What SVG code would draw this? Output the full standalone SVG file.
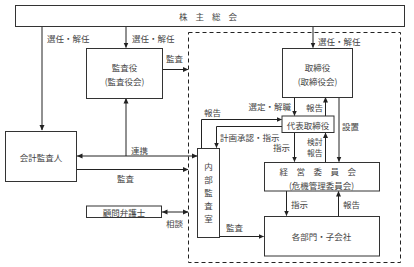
<svg xmlns="http://www.w3.org/2000/svg" width="414" height="267" viewBox="0 0 414 267">
<style>
text{font-family:"Noto Sans CJK JP","Noto Sans CJK SC",sans-serif;font-size:8.5px;fill:#444;dominant-baseline:central}
.c{text-anchor:middle}
.e{text-anchor:end}
.s{font-size:7.8px}
.box{fill:#fff;stroke:#333;stroke-width:1}
.ln{fill:none;stroke:#222;stroke-width:1}
.ar{marker-end:url(#ah)}
.ab{marker-start:url(#as);marker-end:url(#ah)}
</style>
<defs>
<marker id="ah" markerWidth="6" markerHeight="6" refX="5" refY="3" orient="auto" markerUnits="userSpaceOnUse"><path d="M0,0.5 L5.5,3 L0,5.5 Z" fill="#222"/></marker>
<marker id="as" markerWidth="6" markerHeight="6" refX="0.5" refY="3" orient="auto" markerUnits="userSpaceOnUse"><path d="M6,0.5 L0.5,3 L6,5.5 Z" fill="#222"/></marker>
</defs>
<rect width="414" height="267" fill="#fff"/>
<rect x="188.5" y="32.5" width="212" height="230" fill="none" stroke="#222" stroke-width="1" stroke-dasharray="4,3"/>
<g id="connectors">
<path class="ln ar" d="M42,26 V130"/>
<path class="ln ar" d="M126,26 V47.5"/>
<path class="ln ar" d="M313,26 V47.5"/>
<path class="ln ar" d="M162,69.5 H188"/>
<path class="ln ab" d="M77,156 H197"/>
<path class="ln ar" d="M126,156 V98.5"/>
<path class="ln ar" d="M76,169.5 H188"/>
<path class="ln ab" d="M162,212 H188"/>
<path class="ln ar" d="M294.5,97 V115.5"/>
<path class="ln ar" d="M325.5,116 V97.5"/>
<path class="ln ar" d="M339,97 V161.5"/>
<path class="ln ar" d="M294.5,132.5 V161.5"/>
<path class="ln ar" d="M325.5,162 V133"/>
<path class="ln ar" d="M201.5,148 V119.5 H281.5"/>
<path class="ln ar" d="M282,126.5 H216.5 V147.5"/>
<path class="ln ar" d="M286.5,191 V215.5"/>
<path class="ln ar" d="M338.5,216 V191.5"/>
<path class="ln ar" d="M219,236.5 H263.5"/>
<text x="47" y="38">選任・解任</text>
<text x="132" y="38">選任・解任</text>
<text x="318" y="41">選任・解任</text>
<text x="166" y="58">監査</text>
<text x="131" y="150">連携</text>
<text x="117" y="177.5">監査</text>
<text x="166" y="223">相談</text>
<text class="e" x="291" y="105.5">選定・解職</text>
<text x="306" y="106.5">報告</text>
<text x="342" y="125.5">設置</text>
<text x="273" y="146.5">指示</text>
<text class="s" x="307" y="141">検討</text>
<text class="s" x="307" y="152.5">報告</text>
<text x="204" y="112">報告</text>
<text x="220" y="137">計画承認・指示</text>
<text x="291" y="204">指示</text>
<text x="343" y="204">報告</text>
<text x="226" y="227">監査</text>
</g>
<g id="kabunushi"><rect class="box" x="15.5" y="5.5" width="389" height="21"/><text class="c" x="212" y="16" letter-spacing="8">株主総会</text></g>
<g id="kansayaku"><rect class="box" x="86.5" y="48.5" width="76" height="50"/><text class="c" x="124.5" y="67">監査役</text><text class="c" x="124.5" y="80.5">(監査役会)</text></g>
<g id="torishimariyaku"><rect class="box" x="282.5" y="48.5" width="70" height="49"/><text class="c" x="317.5" y="67">取締役</text><text class="c" x="317.5" y="80.5">(取締役会)</text></g>
<g id="kaikei"><rect class="box" x="5.5" y="131.5" width="71" height="50"/><text class="c" x="41" y="157">会計監査人</text></g>
<g id="daihyo"><rect class="box" x="282" y="116" width="52" height="16.5" stroke-width="1.6"/><text class="c" x="308" y="124.5">代表取締役</text></g>
<g id="naibu"><rect class="box" x="197.5" y="148.5" width="22" height="89"/><text class="c" x="208.5" y="166">内</text><text class="c" x="208.5" y="179">部</text><text class="c" x="208.5" y="192">監</text><text class="c" x="208.5" y="205">査</text><text class="c" x="208.5" y="218">室</text></g>
<g id="keiei"><rect class="box" x="264.5" y="162.5" width="115" height="28.5"/><text class="c" x="322" y="171" letter-spacing="8.5">経営委員会</text><text class="c" x="321.5" y="184.5">(危機管理委員会)</text></g>
<g id="kakubumon"><rect class="box" x="264.5" y="216.5" width="115" height="39.5"/><text class="c" x="321.5" y="236">各部門・子会社</text></g>
<g id="komon"><rect class="box" x="86.5" y="206" width="75" height="11.5"/><text class="c" x="124" y="211.8">顧問弁護士</text></g>
</svg>
